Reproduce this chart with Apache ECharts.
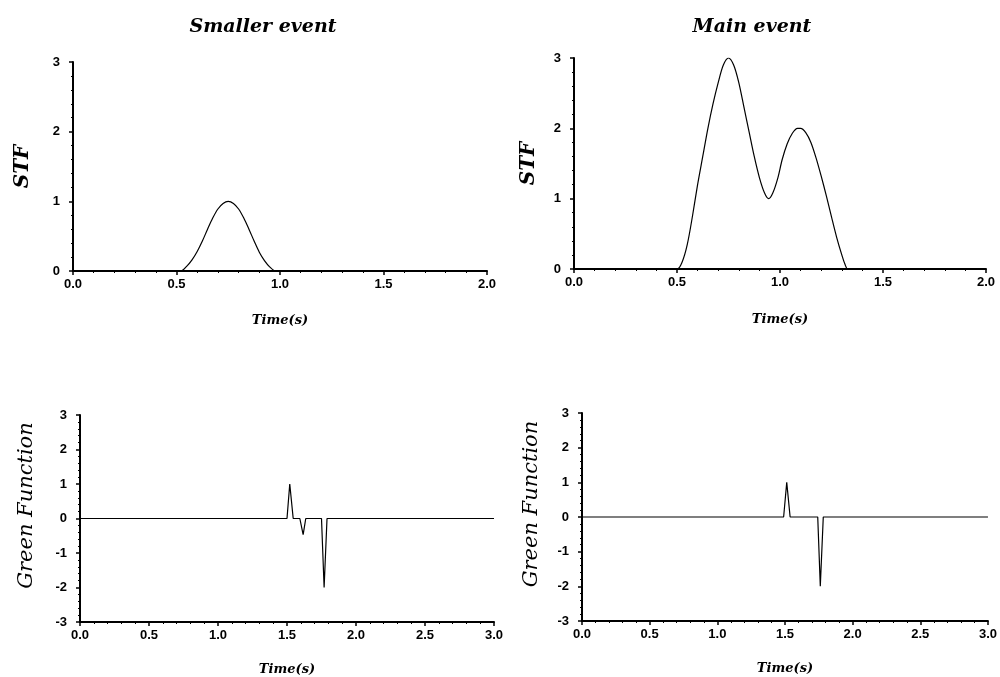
<!DOCTYPE html>
<html>
<head>
<meta charset="utf-8">
<script src="https://cdn.jsdelivr.net/npm/echarts@6/dist/echarts.min.js"></script>
<style>
  html, body { margin: 0; padding: 0; background: #fff; }
  #chart { width: 1000px; height: 677px; }
</style>
</head>
<body>
<div id="chart"></div>
<script>
// source time functions (time in s, amplitude)
var smallTime = [0, 0.52, 0.55, 0.575, 0.6, 0.625, 0.65, 0.675, 0.7, 0.725, 0.75, 0.775, 0.8, 0.825, 0.85, 0.875, 0.9, 0.925, 0.95, 0.98, 2.0];
var smallStf  = [0, 0,    0.07, 0.16,  0.28, 0.43, 0.6, 0.76,  0.89, 0.97,  1.0,  0.97,  0.89, 0.76, 0.6,  0.43,  0.27, 0.15,  0.06, 0,    0];

var mainTime = [0, 0.5, 0.525, 0.55, 0.575, 0.6, 0.625, 0.65, 0.675, 0.7, 0.725, 0.75, 0.775, 0.8, 0.825, 0.85, 0.875, 0.9, 0.925, 0.945, 0.965, 0.99, 1.01, 1.035, 1.06, 1.085, 1.1, 1.125, 1.15, 1.175, 1.2, 1.225, 1.25, 1.275, 1.3, 1.315, 1.33, 2.0];
var mainStf  = [0, 0,   0.1,   0.35, 0.75,  1.2, 1.6,   2.0,  2.35,  2.65, 2.9,  3.0,  2.9,   2.65, 2.3,   1.95, 1.6,   1.3, 1.08,  1.0,   1.08,  1.3,  1.55, 1.78,  1.93, 2.0,   2.0, 1.94,  1.8,  1.58,  1.32, 1.04,  0.74, 0.45,  0.2, 0.07,  0,    0];

// green functions
var greenSmallTime = [0, 1.5, 1.52, 1.545, 1.593, 1.617, 1.636, 1.75, 1.769, 1.79, 3.0];
var greenSmall     = [0, 0,   1.0,  0,     0,     -0.47, 0,     0,    -2.0,  0,    0];
var greenMainTime  = [0, 1.49, 1.513, 1.538, 1.742, 1.761, 1.783, 3.0];
var greenMain      = [0, 0,    1.0,   0,     0,     -2.0,  0,     0];

var titles = ['Smaller event', 'Main event'];
var stfTicks = [0, 1, 2, 3];
var greenTicks = [-3, -2, -1, 0, 1, 2, 3];

function pairs(xs, ys) {
  return xs.map(function (x, i) { return [x, ys[i]]; });
}

var serif = '"DejaVu Serif", "Liberation Serif", serif';
var sans = '"Liberation Sans", Arial, sans-serif';

function xAxisFor(idx, max, gap) {
  return {
    type: 'value', gridIndex: idx, min: 0, max: max, interval: 0.5,
    name: 'Time(s)', nameLocation: 'middle', nameGap: gap,
    nameTextStyle: { fontFamily: serif, fontStyle: 'italic', fontWeight: 'bold', fontSize: 13, color: '#000' },
    axisLine: { show: true, onZero: false, lineStyle: { color: '#000', width: 2 } },
    axisTick: { show: true, length: 4, lineStyle: { color: '#000', width: 1.5 } },
    minorTick: { show: true, splitNumber: 5, length: 2, lineStyle: { color: '#000', width: 1 } },
    splitLine: { show: false },
    axisLabel: { color: '#000', fontFamily: sans, fontWeight: 'bold', fontSize: 13, margin: 7,
      formatter: function (v) { return v.toFixed(1); } }
  };
}

function yAxisFor(idx, min, max, name, gap, size, bold, shift) {
  return {
    type: 'value', gridIndex: idx, min: min, max: max, interval: 1,
    name: name, nameLocation: 'middle', nameGap: gap, nameRotate: 90,
    nameTextStyle: { fontFamily: serif, fontStyle: 'italic', fontWeight: bold ? 'bold' : 'normal', fontSize: size, color: '#000',
      padding: [0, 0, 0, shift] },
    axisLine: { show: true, onZero: false, lineStyle: { color: '#000', width: 2 } },
    axisTick: { show: true, length: 4, lineStyle: { color: '#000', width: 1.5 } },
    minorTick: { show: true, splitNumber: 5, length: 2, lineStyle: { color: '#000', width: 1 } },
    splitLine: { show: false },
    axisLabel: { color: '#000', fontFamily: sans, fontWeight: 'bold', fontSize: 13, margin: 13 }
  };
}

function lineSeries(idx, data, smooth) {
  return {
    type: 'line', xAxisIndex: idx, yAxisIndex: idx, data: data,
    showSymbol: false, smooth: smooth, silent: true,
    lineStyle: { color: '#000', width: 1.2 }
  };
}

var myChart = echarts.init(document.getElementById('chart'));

var option = {
  animation: false,
  backgroundColor: '#fff',
  title: [
    { text: titles[0], left: 258, top: 13, textAlign: 'center',
      textStyle: { fontFamily: serif, fontStyle: 'italic', fontWeight: 'bold', fontSize: 19, color: '#000' } },
    { text: titles[1], left: 747, top: 13, textAlign: 'center',
      textStyle: { fontFamily: serif, fontStyle: 'italic', fontWeight: 'bold', fontSize: 19, color: '#000' } }
  ],
  grid: [
    { left: 73, top: 62, width: 414, height: 209 },
    { left: 574, top: 58, width: 412, height: 211 },
    { left: 80, top: 415, width: 414, height: 207 },
    { left: 582, top: 413, width: 407, height: 208 }
  ],
  xAxis: [
    xAxisFor(0, 2, 43),
    xAxisFor(1, 2, 44),
    xAxisFor(2, 3, 41),
    xAxisFor(3, 3, 41)
  ],
  yAxis: [
    yAxisFor(0, stfTicks[0], stfTicks[stfTicks.length - 1], 'STF', 40, 20, true, 0),
    yAxisFor(1, stfTicks[0], stfTicks[stfTicks.length - 1], 'STF', 35, 20, true, 0),
    yAxisFor(2, greenTicks[0], greenTicks[greenTicks.length - 1], 'Green Function', 43, 21, false, 26),
    yAxisFor(3, greenTicks[0], greenTicks[greenTicks.length - 1], 'Green Function', 40, 21, false, 26)
  ],
  series: [
    lineSeries(0, pairs(smallTime, smallStf), 0.3),
    lineSeries(1, pairs(mainTime, mainStf), 0.3),
    lineSeries(2, pairs(greenSmallTime, greenSmall), false),
    lineSeries(3, pairs(greenMainTime, greenMain), false)
  ]
};

myChart.setOption(option);
</script>
</body>
</html>
